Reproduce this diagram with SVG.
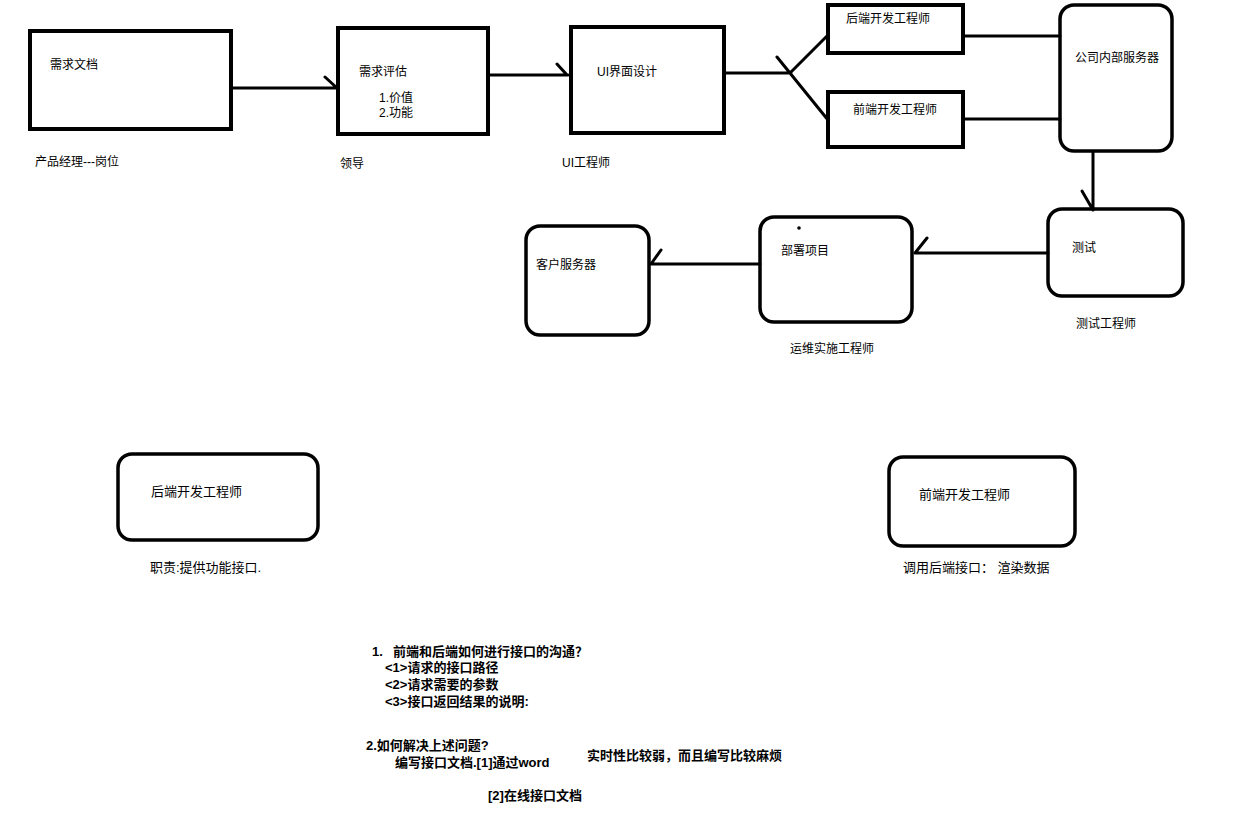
<svg xmlns="http://www.w3.org/2000/svg" width="1246" height="828" viewBox="0 0 1246 828">
<style>
.box{fill:none;stroke:#000;stroke-width:4}
.rbox{fill:none;stroke:#000;stroke-width:3.5}
.ln{fill:none;stroke:#000;stroke-width:3;stroke-linecap:round}
text{font-family:"Liberation Sans","Noto Sans CJK SC",sans-serif;fill:#000;font-size:12px}
.big{font-size:13px;font-weight:bold}
.mid{font-size:13px}
</style>
<rect width="1246" height="828" fill="#fff"/>
<g id="n-xuqiuwendang">
<rect class="box" x="30" y="31" width="201" height="98"/>
<text x="50" y="69">需求文档</text>
<text x="35" y="166">产品经理---岗位</text>
</g>
<g id="n-xuqiupinggu">
<rect class="box" x="338" y="28" width="150" height="106"/>
<text x="359" y="76">需求评估</text>
<text x="379" y="102">1.价值</text>
<text x="379" y="117">2.功能</text>
<text x="340" y="168">领导</text>
</g>
<g id="n-ui">
<rect class="box" x="571" y="27" width="153" height="106"/>
<text x="597" y="76">UI界面设计</text>
<text x="562" y="167">UI工程师</text>
</g>
<g id="n-backend-top">
<rect class="box" x="828" y="5" width="135" height="48"/>
<text x="846" y="23">后端开发工程师</text>
</g>
<g id="n-frontend-top">
<rect class="box" x="828" y="92" width="135" height="55"/>
<text x="853" y="114">前端开发工程师</text>
</g>
<g id="n-server">
<rect class="rbox" x="1060" y="5" width="112" height="146" rx="14"/>
<text x="1075" y="62">公司内部服务器</text>
</g>
<g id="n-test">
<rect class="rbox" x="1048" y="209" width="135" height="87" rx="14"/>
<text x="1072" y="252">测试</text>
<text x="1076" y="328">测试工程师</text>
</g>
<g id="n-deploy">
<rect class="rbox" x="760" y="217" width="152" height="105" rx="14"/>
<circle cx="799" cy="228" r="1.8" fill="#000"/>
<text x="781" y="255">部署项目</text>
<text x="790" y="353">运维实施工程师</text>
</g>
<g id="n-client">
<rect class="rbox" x="526" y="226" width="123" height="109" rx="14"/>
<text x="536" y="269">客户服务器</text>
</g>
<g id="n-backend">
<rect class="rbox" x="118" y="454" width="200" height="86" rx="14"/>
<text class="mid" x="151" y="496">后端开发工程师</text>
<text class="mid" x="150" y="572">职责:提供功能接口.</text>
</g>
<g id="n-frontend">
<rect class="rbox" x="889" y="457" width="186" height="89" rx="14"/>
<text class="mid" x="919" y="499">前端开发工程师</text>
<text class="mid" x="903" y="572">调用后端接口： 渲染数据</text>
</g>
<g id="notes">
<text class="big" x="372" y="656">1.</text>
<text class="big" x="393" y="656">前端和后端如何进行接口的沟通？</text>
<text class="big" x="385" y="672">&lt;1&gt;请求的接口路径</text>
<text class="big" x="385" y="689">&lt;2&gt;请求需要的参数</text>
<text class="big" x="385" y="706">&lt;3&gt;接口返回结果的说明:</text>
<text class="big" x="366" y="750">2.如何解决上述问题?</text>
<text class="big" x="395" y="767">编写接口文档.[1]通过word</text>
<text class="big" x="587" y="760">实时性比较弱，而且编写比较麻烦</text>
<text class="big" x="488" y="800">[2]在线接口文档</text>
</g>
<g id="connectors">
<path class="ln" d="M231 88H337M325 77L337 88"/>
<path class="ln" d="M488 75H568M557 64L567 75"/>
<path class="ln" d="M724 73H791M777 57L828 120M790 73L828 35"/>
<path class="ln" d="M963 36H1060M963 119H1060"/>
<path class="ln" d="M1093 152V210M1082 191L1093 210"/>
<path class="ln" d="M1048 253H916M927 238L915 253"/>
<path class="ln" d="M760 264H651M661 250L651 264"/>
</g>
</svg>
